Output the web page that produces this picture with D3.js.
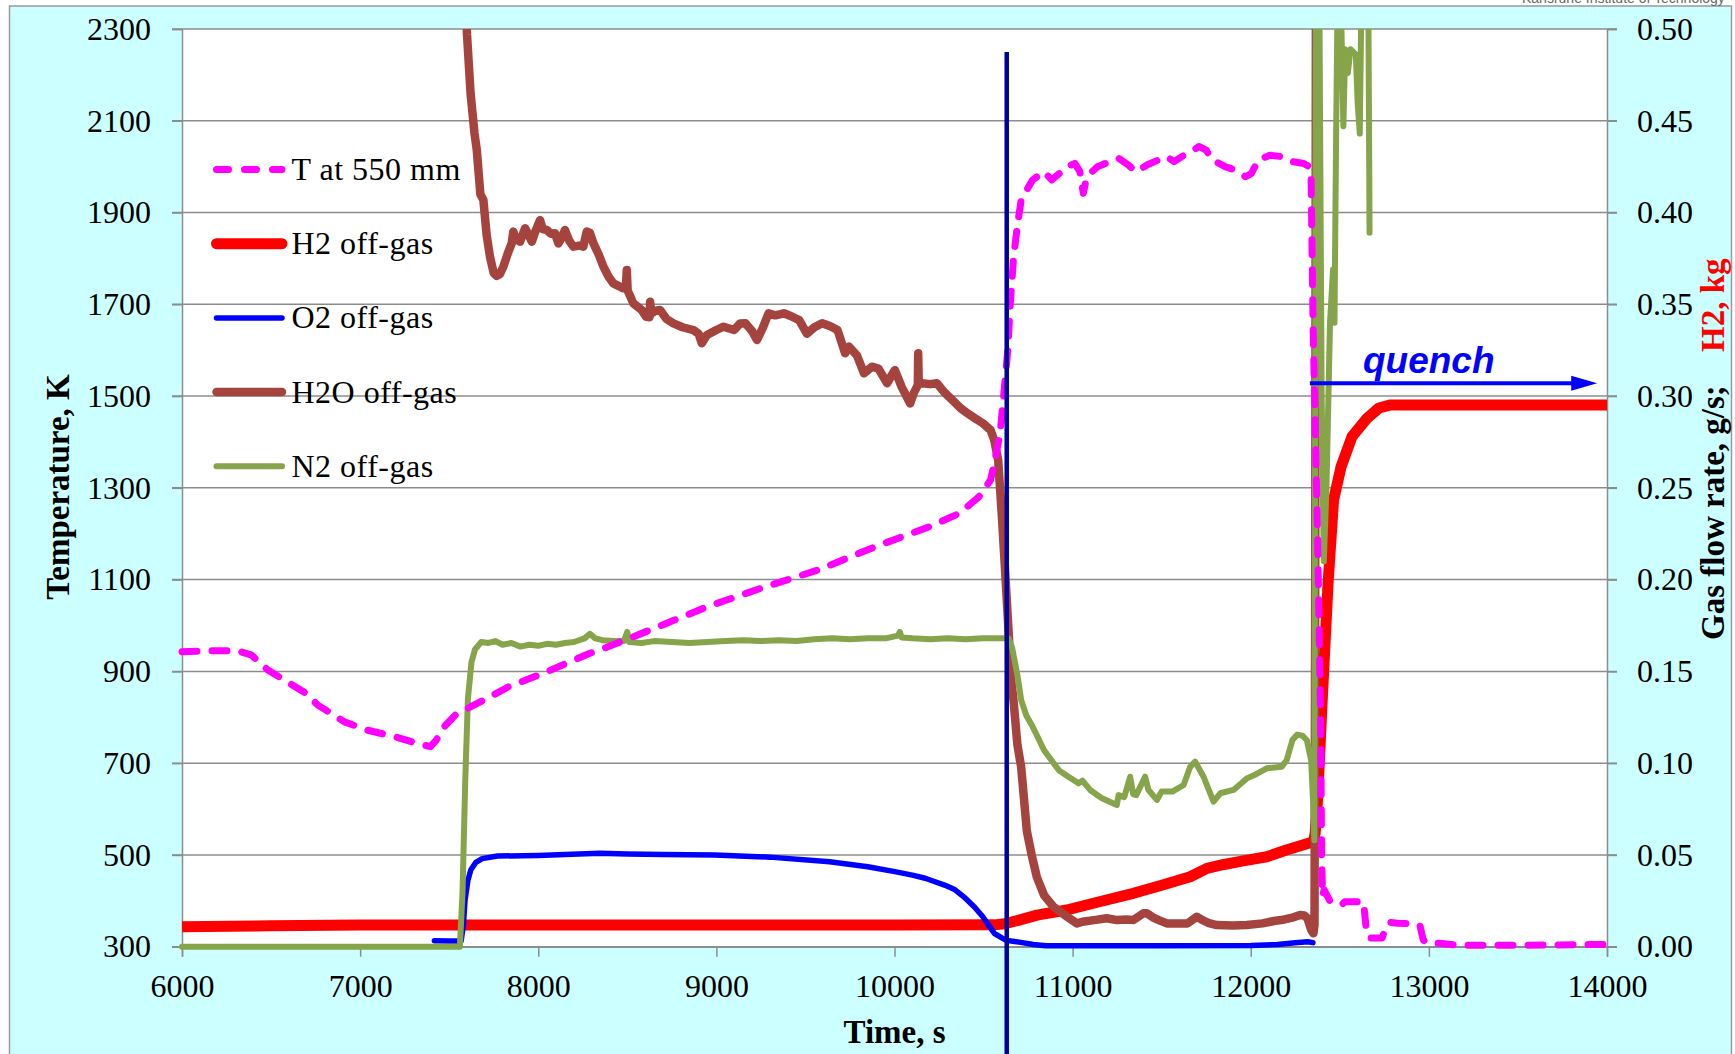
<!DOCTYPE html>
<html>
<head>
<meta charset="utf-8">
<script src="https://cdn.jsdelivr.net/npm/d3@7"></script>
<style>
  html, body { margin: 0; padding: 0; background: #fff; }
  svg { display: block; }
</style>
</head>
<body>
<svg id="chart" width="1735" height="1054"></svg>
<script>
// ---- Axis ticks ----
const timeTicks = [6000, 7000, 8000, 9000, 10000, 11000, 12000, 13000, 14000];
const tempTicks = [300, 500, 700, 900, 1100, 1300, 1500, 1700, 1900, 2100, 2300];
const flowTicks = [0, 0.05, 0.10, 0.15, 0.20, 0.25, 0.30, 0.35, 0.40, 0.45, 0.50];

// ---- Series: [time s, value] ----
// Temperature at 550 mm elevation, K (left axis)
const tempT550 = [
  [6000, 943], [6150, 945], [6310, 945], [6388, 936], [6482, 903], [6600, 875], [6696, 852],
  [6761, 827], [6912, 790], [7041, 772], [7191, 758], [7320, 743], [7395, 736], [7427, 750],
  [7471, 779], [7535, 805], [7621, 823], [7707, 840], [7836, 867], [8029, 896], [8287, 939],
  [8347, 947], [8627, 990], [8949, 1041], [9249, 1081], [9571, 1121], [9894, 1172], [10194, 1215],
  [10367, 1245], [10475, 1281], [10539, 1317], [10560, 1353], [10593, 1419], [10614, 1506],
  [10636, 1600], [10650, 1700], [10668, 1800], [10689, 1869], [10711, 1927], [10742, 1949],
  [10775, 1971], [10839, 1989], [10883, 1971], [10925, 1985], [10969, 2000], [11012, 2007],
  [11040, 1990], [11060, 1942], [11075, 1970], [11098, 1985], [11140, 2000], [11184, 2007],
  [11259, 2018], [11312, 2004], [11355, 1989], [11420, 2004], [11484, 2015], [11527, 2022],
  [11570, 2011], [11613, 2022], [11667, 2033], [11709, 2044], [11750, 2036], [11782, 2015],
  [11856, 2000], [11909, 1993], [11971, 1978], [12003, 1985], [12044, 2015], [12108, 2025],
  [12171, 2022], [12234, 2011], [12297, 2007], [12328, 2000], [12339, 1971], [12350, 1650],
  [12375, 1200], [12392, 800], [12398, 500], [12403, 410], [12412, 424], [12444, 400],
  [12510, 391], [12528, 398], [12570, 398], [12633, 398], [12648, 340], [12665, 319],
  [12738, 319], [12760, 345], [12780, 353], [12822, 351], [12906, 350], [12950, 346],
  [12968, 315], [12990, 308], [13074, 307], [13158, 303], [13536, 303], [14000, 305]
];

// Hydrogen released, kg (right axis)
const h2OffGas = [
  [6000, 0.0109], [6500, 0.0114], [7000, 0.0118], [7500, 0.0118], [8000, 0.0118], [9000, 0.0118],
  [10000, 0.0118], [10560, 0.0119], [10620, 0.0125], [10700, 0.0145], [10800, 0.0172],
  [10967, 0.0200], [11150, 0.0245], [11341, 0.0291], [11500, 0.0335], [11660, 0.0381],
  [11754, 0.0427], [11850, 0.0448], [11950, 0.0466], [12090, 0.0490], [12200, 0.0527],
  [12352, 0.0572], [12362, 0.0620], [12375, 0.0800], [12401, 0.1340], [12434, 0.1980],
  [12465, 0.2434], [12507, 0.2615], [12569, 0.2780], [12654, 0.2880], [12720, 0.2935],
  [12780, 0.2951], [14000, 0.2951]
];

// Oxygen flow, g/s (right axis)
const o2OffGas = [
  [7417, 0.0033], [7500, 0.0031], [7567, 0.0031], [7580, 0.0120], [7589, 0.0254], [7605, 0.0360],
  [7621, 0.0418], [7650, 0.0460], [7685, 0.0480], [7771, 0.0494], [8000, 0.0497], [8150, 0.0502],
  [8347, 0.0509], [8500, 0.0505], [8700, 0.0502], [8992, 0.0500], [9300, 0.0488], [9636, 0.0463],
  [9850, 0.0436], [10002, 0.0409], [10100, 0.0390], [10172, 0.0373], [10281, 0.0336],
  [10340, 0.0310], [10389, 0.0272], [10450, 0.0215], [10496, 0.0163], [10530, 0.0115],
  [10560, 0.0073], [10593, 0.0054], [10625, 0.0035], [10700, 0.0025], [10780, 0.0012],
  [10850, 0.0005], [11500, 0.0005], [12000, 0.0007], [12150, 0.0012], [12250, 0.0022],
  [12320, 0.0027], [12349, 0.0022]
];

// Steam flow, g/s (right axis)
const h2oOffGas = [
  [7588, 0.530], [7600, 0.497], [7620, 0.465], [7642, 0.4432], [7655, 0.434], [7675, 0.410],
  [7692, 0.4068], [7710, 0.388], [7729, 0.3759], [7750, 0.367], [7767, 0.3655], [7785, 0.3665],
  [7804, 0.3705], [7830, 0.378], [7851, 0.3832], [7860, 0.3896], [7875, 0.3855], [7898, 0.3841],
  [7926, 0.3914], [7945, 0.388], [7964, 0.3841], [7985, 0.390], [8010, 0.3959], [8025, 0.391],
  [8048, 0.3905], [8070, 0.3885], [8094, 0.3887], [8113, 0.3832], [8130, 0.386], [8150, 0.3905],
  [8175, 0.3845], [8197, 0.3814], [8230, 0.382], [8253, 0.3814], [8272, 0.3896], [8290, 0.389],
  [8310, 0.3832], [8340, 0.377], [8366, 0.3705], [8395, 0.365], [8422, 0.3614], [8450, 0.360],
  [8478, 0.3587], [8492, 0.359], [8497, 0.3687], [8502, 0.3575], [8534, 0.3505], [8580, 0.347],
  [8605, 0.3432], [8625, 0.343], [8628, 0.3514], [8635, 0.345], [8660, 0.3465], [8684, 0.3469],
  [8720, 0.342], [8759, 0.3396], [8810, 0.3375], [8871, 0.336], [8900, 0.334], [8918, 0.3288],
  [8947, 0.3333], [9000, 0.336], [9040, 0.3378], [9100, 0.336], [9133, 0.3396], [9163, 0.3397],
  [9200, 0.3355], [9228, 0.3306], [9260, 0.337], [9293, 0.3451], [9330, 0.344], [9379, 0.3451],
  [9420, 0.3435], [9465, 0.3414], [9508, 0.334], [9550, 0.3375], [9594, 0.3397], [9640, 0.338],
  [9680, 0.336], [9723, 0.3233], [9744, 0.327], [9790, 0.322], [9829, 0.3124], [9873, 0.316],
  [9910, 0.315], [9958, 0.307], [10002, 0.3142], [10040, 0.305], [10088, 0.296], [10110, 0.302],
  [10131, 0.306], [10133, 0.3233], [10136, 0.307], [10153, 0.307], [10200, 0.3065], [10238, 0.307],
  [10280, 0.302], [10324, 0.2979], [10370, 0.2935], [10410, 0.2906], [10450, 0.288], [10496, 0.2852],
  [10539, 0.2815], [10560, 0.276], [10582, 0.2652], [10603, 0.2343], [10625, 0.198], [10657, 0.1435],
  [10668, 0.1344], [10690, 0.110], [10711, 0.098], [10743, 0.063], [10770, 0.050], [10799, 0.038],
  [10840, 0.028], [10892, 0.0218], [10969, 0.0163], [11024, 0.0127], [11055, 0.0136], [11120, 0.0145],
  [11192, 0.0155], [11249, 0.0145], [11300, 0.0148], [11341, 0.0145], [11398, 0.0182], [11417, 0.0182],
  [11450, 0.016], [11484, 0.0145], [11529, 0.0127], [11570, 0.0127], [11645, 0.0127], [11697, 0.0163],
  [11720, 0.015], [11760, 0.013], [11809, 0.0118], [11900, 0.0115], [11978, 0.0118], [12066, 0.0127],
  [12130, 0.014], [12171, 0.0145], [12240, 0.016], [12277, 0.0173], [12300, 0.017], [12318, 0.0155],
  [12340, 0.009], [12352, 0.0073], [12358, 0.012], [12362, 0.200], [12366, 0.530]
];

// Nitrogen flow, g/s (right axis)
const n2OffGas = [
  [6000, 0.0], [7560, 0.0], [7575, 0.030], [7590, 0.090], [7605, 0.135], [7625, 0.155], [7645, 0.162],
  [7680, 0.166], [7720, 0.1655], [7760, 0.1665], [7800, 0.1645], [7850, 0.1655], [7900, 0.1635],
  [7950, 0.1645], [8000, 0.164], [8050, 0.165], [8100, 0.1645], [8150, 0.1655], [8200, 0.166],
  [8260, 0.168], [8290, 0.1705], [8320, 0.168], [8360, 0.167], [8420, 0.1665], [8480, 0.1665],
  [8500, 0.1715], [8510, 0.166], [8580, 0.1655], [8650, 0.1665], [8750, 0.166], [8850, 0.1655],
  [8950, 0.166], [9050, 0.1665], [9150, 0.167], [9250, 0.1665], [9350, 0.167], [9450, 0.1665],
  [9550, 0.1675], [9650, 0.168], [9750, 0.1675], [9850, 0.168], [9950, 0.168], [10020, 0.1695],
  [10030, 0.1715], [10040, 0.1685], [10100, 0.168], [10200, 0.1675], [10300, 0.168], [10400, 0.1675],
  [10500, 0.168], [10600, 0.168], [10640, 0.168], [10660, 0.163], [10690, 0.148], [10711, 0.1344],
  [10740, 0.126], [10775, 0.120], [10840, 0.107], [10880, 0.1017], [10924, 0.096], [10970, 0.093],
  [11033, 0.089], [11055, 0.0905], [11098, 0.0854], [11162, 0.081], [11248, 0.0772], [11258, 0.0826],
  [11290, 0.0815], [11323, 0.0926], [11340, 0.083], [11357, 0.0826], [11407, 0.0926], [11425, 0.0855],
  [11473, 0.080], [11500, 0.0845], [11560, 0.0845], [11623, 0.0881], [11660, 0.098], [11688, 0.1008],
  [11735, 0.0926], [11791, 0.079], [11829, 0.0836], [11903, 0.0854], [11978, 0.0917], [12030, 0.094],
  [12090, 0.0972], [12174, 0.0981], [12202, 0.1017], [12234, 0.1126], [12260, 0.1155], [12290, 0.115],
  [12315, 0.1125], [12339, 0.1017], [12352, 0.075], [12357, 0.058], [12362, 0.300], [12366, 0.520],
  [12385, 0.520], [12398, 0.300], [12410, 0.210], [12425, 0.250], [12445, 0.340], [12462, 0.369],
  [12470, 0.340], [12480, 0.450], [12488, 0.520], [12505, 0.520], [12520, 0.447], [12530, 0.489],
  [12545, 0.476], [12560, 0.489], [12590, 0.486], [12600, 0.460], [12612, 0.443], [12622, 0.520],
  [12660, 0.520], [12667, 0.389]
];

const legendLabels = ["T at 550 mm", "H2 off-gas", "O2 off-gas", "H2O off-gas", "N2 off-gas"];

// Time of the vertical marker and the quench arrow span
const markerTime = 10630;
const quenchSpan = [12332, 13945];
const quenchLevel = 0.307;

// ---- Layout ----
const W = 1735, H = 1054;
const plot = { left: 182, right: 1607, top: 29, bottom: 946.7 };
const serif = "'Liberation Serif', 'Times New Roman', 'DejaVu Serif', serif";
const sans = "'Liberation Sans', Arial, sans-serif";
const gridColor = "#8c8c8c";

const x = d3.scaleLinear().domain([6000, 14000]).range([plot.left, plot.right]);
const yL = d3.scaleLinear().domain([300, 2300]).range([plot.bottom, plot.top]);
const yR = d3.scaleLinear().domain([0, 0.5]).range([plot.bottom, plot.top]);

const svg = d3.select("#chart");

// Outer panel
svg.append("rect")
  .attr("x", 9.5).attr("y", 6).attr("width", 1722).attr("height", H + 20)
  .attr("fill", "#ccffff").attr("stroke", "#9a9a9a").attr("stroke-width", 1.5);

svg.append("text")
  .attr("x", 1522).attr("y", 3)
  .attr("font-family", sans).attr("font-size", 14).attr("fill", "#666")
  .text("Karlsruhe Institute of Technology");

// Plot area
svg.append("rect")
  .attr("x", plot.left).attr("y", plot.top)
  .attr("width", plot.right - plot.left).attr("height", plot.bottom - plot.top)
  .attr("fill", "#fff");

// Horizontal gridlines (with outward ticks on both sides)
svg.append("g").selectAll("line").data(tempTicks).join("line")
  .attr("x1", plot.left - 10).attr("x2", plot.right + 10)
  .attr("y1", d => yL(d)).attr("y2", d => yL(d))
  .attr("stroke", gridColor).attr("stroke-width", 1.5);

function styleAxis(g) {
  g.attr("color", gridColor);
  g.selectAll("path.domain").attr("stroke-width", 1.5);
  g.selectAll(".tick line").attr("stroke-width", 1.5);
  g.selectAll("text")
    .attr("font-family", serif).attr("font-size", 32).attr("fill", "#000");
}

svg.append("g")
  .attr("transform", `translate(${plot.left},0)`)
  .call(d3.axisLeft(yL).tickValues(tempTicks).tickSize(10).tickPadding(21).tickFormat(d3.format("d")))
  .call(styleAxis);

svg.append("g")
  .attr("transform", `translate(${plot.right},0)`)
  .call(d3.axisRight(yR).tickValues(flowTicks).tickSize(10).tickPadding(20).tickFormat(d3.format(".2f")))
  .call(styleAxis);

svg.append("g")
  .attr("transform", `translate(0,${plot.bottom})`)
  .call(d3.axisBottom(x).tickValues(timeTicks).tickSize(10).tickPadding(18).tickFormat(d3.format("d")))
  .call(styleAxis);

// Axis titles
svg.append("text")
  .attr("transform", "translate(69,487) rotate(-90)")
  .attr("text-anchor", "middle")
  .attr("font-family", serif).attr("font-size", 33).attr("font-weight", "bold")
  .text("Temperature, K");

svg.append("text")
  .attr("x", (plot.left + plot.right) / 2).attr("y", 1043)
  .attr("text-anchor", "middle")
  .attr("font-family", serif).attr("font-size", 33).attr("font-weight", "bold")
  .text("Time, s");

svg.append("text")
  .attr("transform", "translate(1724,640) rotate(-90)")
  .attr("font-family", serif).attr("font-size", 33).attr("font-weight", "bold")
  .attr("fill", "#000")
  .text("Gas flow rate, g/s;");

svg.append("text")
  .attr("transform", "translate(1724,352) rotate(-90)")
  .attr("font-family", serif).attr("font-size", 33).attr("font-weight", "bold")
  .attr("fill", "#ff0000")
  .text("H2, kg");

// ---- Series ----
svg.append("defs").append("clipPath").attr("id", "plotClip")
  .append("rect").attr("x", 0).attr("y", plot.top).attr("width", plot.right + 4).attr("height", H - plot.top);

const series = svg.append("g").attr("clip-path", "url(#plotClip)");

const lineR = d3.line().x(d => x(d[0])).y(d => yR(d[1]));
const lineL = d3.line().x(d => x(d[0])).y(d => yL(d[1]));

const styles = {
  t:   { color: "#ff00ff", width: 7, cap: "round", dash: "15,15" },
  h2:  { color: "#ff0000", width: 11, cap: "butt" },
  o2:  { color: "#0000ff", width: 5.5, cap: "round" },
  h2o: { color: "#a5443f", width: 8.5, cap: "round" },
  n2:  { color: "#86a44a", width: 6, cap: "round" }
};

function drawSeries(data, gen, st) {
  series.append("path")
    .datum(data)
    .attr("d", gen)
    .attr("fill", "none")
    .attr("stroke", st.color)
    .attr("stroke-width", st.width)
    .attr("stroke-linejoin", "round")
    .attr("stroke-linecap", st.cap)
    .attr("stroke-dasharray", st.dash || null);
}

drawSeries(h2OffGas, lineR, styles.h2);
drawSeries(o2OffGas, lineR, styles.o2);
drawSeries(h2oOffGas, lineR, styles.h2o);
drawSeries(n2OffGas, lineR, styles.n2);
drawSeries(tempT550, lineL, styles.t);

// ---- Legend ----
const legendStyles = [styles.t, styles.h2, styles.o2, styles.h2o, styles.n2];
const legend = svg.append("g");
legendLabels.forEach((label, i) => {
  const ly = 169.5 + i * 74.2;
  const st = legendStyles[i];
  legend.append("line")
    .attr("x1", 216.5).attr("x2", 282).attr("y1", ly).attr("y2", ly)
    .attr("stroke", st.color).attr("stroke-width", st.width)
    .attr("stroke-linecap", "round")
    .attr("stroke-dasharray", i === 0 ? "12,16" : null);
  legend.append("text")
    .attr("x", 291.5).attr("y", ly).attr("dy", "0.33em")
    .attr("font-family", serif).attr("font-size", 32).attr("letter-spacing", 0.5)
    .attr("fill", "#000")
    .text(label);
});

// ---- Vertical marker ----
svg.append("line")
  .attr("x1", x(markerTime)).attr("x2", x(markerTime))
  .attr("y1", yL(2250)).attr("y2", H)
  .attr("stroke", "#000099").attr("stroke-width", 4.5);

// ---- Quench arrow ----
const qy = yR(quenchLevel);
const qx0 = x(quenchSpan[0]), qx1 = x(quenchSpan[1]);
svg.append("line")
  .attr("x1", qx0).attr("x2", qx1 - 22).attr("y1", qy).attr("y2", qy)
  .attr("stroke", "#0000ff").attr("stroke-width", 4);
svg.append("path")
  .attr("d", `M${qx1},${qy} L${qx1 - 26},${qy - 7.5} L${qx1 - 26},${qy + 7.5} Z`)
  .attr("fill", "#0000ff");
svg.append("text")
  .attr("x", x(12630)).attr("y", qy - 10)
  .attr("font-family", sans).attr("font-size", 37)
  .attr("font-weight", "bold").attr("font-style", "italic")
  .attr("fill", "#0000ff")
  .text("quench");
</script>
</body>
</html>
